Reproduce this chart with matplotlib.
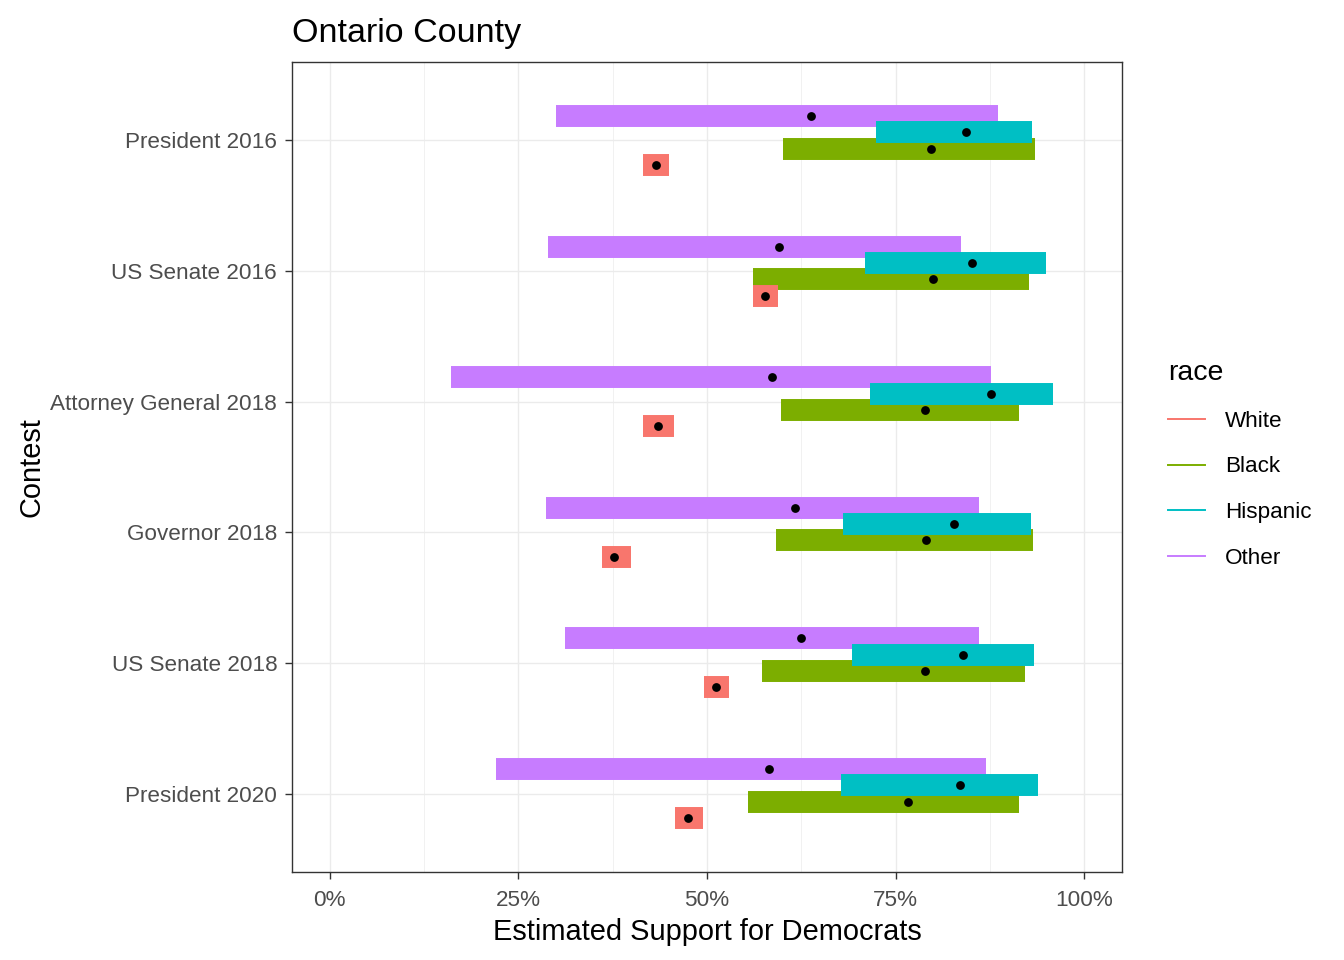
import matplotlib
matplotlib.use("Agg")
import matplotlib.pyplot as plt
from matplotlib.lines import Line2D
import numpy as np

plt.rcParams['font.family'] = ['Liberation Sans', 'DejaVu Sans']

# contests, listed top to bottom
contests = ["President 2016", "US Senate 2016", "Attorney General 2018",
            "Governor 2018", "US Senate 2018", "President 2020"]
races = ["White", "Black", "Hispanic", "Other"]
race_colors = ["#F8766D", "#7CAE00", "#00BFC4", "#C77CFF"]

# point estimates and interval bounds (share of vote)
white_est = [0.432, 0.577, 0.435, 0.377, 0.512, 0.475]
white_lo = [0.415, 0.561, 0.415, 0.361, 0.496, 0.458]
white_hi = [0.450, 0.594, 0.456, 0.399, 0.529, 0.495]

black_est = [0.797, 0.799, 0.789, 0.790, 0.789, 0.767]
black_lo = [0.601, 0.561, 0.598, 0.592, 0.573, 0.554]
black_hi = [0.935, 0.927, 0.914, 0.932, 0.922, 0.913]

hispanic_est = [0.843, 0.851, 0.876, 0.828, 0.839, 0.835]
hispanic_lo = [0.724, 0.709, 0.716, 0.680, 0.692, 0.677]
hispanic_hi = [0.931, 0.949, 0.959, 0.929, 0.934, 0.939]

other_est = [0.638, 0.595, 0.586, 0.617, 0.624, 0.582]
other_lo = [0.300, 0.289, 0.161, 0.286, 0.312, 0.220]
other_hi = [0.886, 0.836, 0.877, 0.860, 0.861, 0.870]

x_ticks = [0, 0.25, 0.5, 0.75, 1.0]
x_tick_labels = ["0%", "25%", "50%", "75%", "100%"]

estimates = {"White": (white_est, white_lo, white_hi),
             "Black": (black_est, black_lo, black_hi),
             "Hispanic": (hispanic_est, hispanic_lo, hispanic_hi),
             "Other": (other_est, other_lo, other_hi)}

# dodge offsets within a contest (width 0.5 split over 4 races)
offsets = {"White": -0.1875, "Black": -0.0625, "Hispanic": 0.0625, "Other": 0.1875}
colors = dict(zip(races, race_colors))

fig = plt.figure(figsize=(13.44, 9.6), dpi=100)
ax = fig.add_axes([292 / 1344, 1 - 872 / 960, 830 / 1344, 810 / 960])

ypos = np.arange(len(contests), 0, -1)

# draw order: Other, Black, White, then Hispanic on top
for race in ["Other", "Black", "White", "Hispanic"]:
    est, lo, hi = estimates[race]
    y = ypos + offsets[race]
    ax.hlines(y, lo, hi, colors=colors[race], linewidth=15.8, capstyle='butt', zorder=2)

for race in races:
    est, lo, hi = estimates[race]
    y = ypos + offsets[race]
    ax.scatter(est, y, s=40, color='black', zorder=5, linewidths=0)

ax.set_xlim(-0.05, 1.05)
ax.set_ylim(0.4, len(contests) + 0.6)
ax.set_xticks(x_ticks)
ax.set_xticklabels(x_tick_labels)
ax.set_xticks([0.125, 0.375, 0.625, 0.875], minor=True)
ax.set_yticks(ypos)
ax.set_yticklabels(contests)

ax.set_axisbelow(True)
ax.grid(which='major', color='#EBEBEB', linewidth=1.0, zorder=0)
ax.grid(which='minor', axis='x', color='#EBEBEB', linewidth=0.5, zorder=0)
ax.tick_params(which='major', length=5.2, width=1.0, color='#333333',
               labelcolor='#4D4D4D', labelsize=16.2)
ax.tick_params(axis='x', which='major', pad=8)
ax.tick_params(axis='y', which='major', pad=5.5)
ax.tick_params(which='minor', length=0)
for sp in ax.spines.values():
    sp.set_color('#333333')
    sp.set_linewidth(1.0)

ax.set_title("Ontario County", loc='left', fontsize=24.5, pad=14.4, color='black')
ax.set_xlabel("Estimated Support for Democrats", fontsize=20.9, color='black')
ax.set_ylabel("Contest", fontsize=20.9, color='black')
ax.xaxis.set_label_coords(0.5, -0.057)
ax.yaxis.set_label_coords(-0.297, 0.5)

handles = [Line2D([], [], color=c, linewidth=1.4) for c in race_colors]
leg = fig.legend(handles, races, title="race", loc='upper left',
                 bbox_to_anchor=(1168 / 1344, 1 - 360 / 960),
                 frameon=False, fontsize=16.2, title_fontsize=20.5,
                 handlelength=1.64, handletextpad=0.89, labelspacing=1.1,
                 borderpad=0, borderaxespad=0, alignment='left')

fig.savefig("out.png", dpi=100)
